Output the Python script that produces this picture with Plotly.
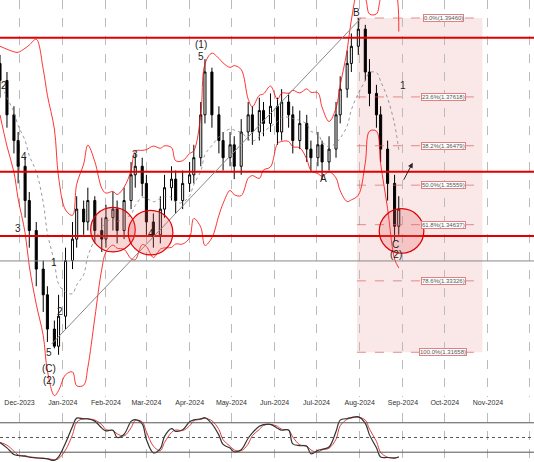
import pandas as pd
import plotly.graph_objects as go
from plotly.subplots import make_subplots

# 3-business-day candles
dates = pd.bdate_range('2023-11-17', periods=69, freq='3B')
close = [1.380, 1.372, 1.366, 1.360, 1.352, 1.345, 1.336, 1.330, 1.322, 1.318,
         1.325, 1.338, 1.343, 1.350, 1.347, 1.352, 1.345, 1.343, 1.348, 1.350,
         1.345, 1.352, 1.358, 1.360, 1.356, 1.347, 1.344, 1.350, 1.355, 1.357,
         1.352, 1.356, 1.358, 1.362, 1.372, 1.382, 1.372, 1.366, 1.362, 1.365,
         1.360, 1.368, 1.372, 1.368, 1.373, 1.370, 1.374, 1.368, 1.375, 1.372,
         1.366, 1.370, 1.364, 1.362, 1.365, 1.361, 1.364, 1.372, 1.378, 1.384,
         1.388, 1.392, 1.382, 1.377, 1.372, 1.364, 1.356, 1.346, 1.350]
high = [1.386, 1.382, 1.374, 1.368, 1.362, 1.354, 1.347, 1.338, 1.332, 1.324,
        1.330, 1.341, 1.347, 1.353, 1.352, 1.355, 1.353, 1.348, 1.351, 1.354,
        1.352, 1.355, 1.361, 1.363, 1.362, 1.358, 1.349, 1.353, 1.358, 1.360,
        1.359, 1.359, 1.361, 1.365, 1.375, 1.385, 1.383, 1.374, 1.368, 1.368,
        1.367, 1.371, 1.375, 1.374, 1.376, 1.375, 1.377, 1.376, 1.378, 1.377,
        1.374, 1.373, 1.372, 1.366, 1.368, 1.366, 1.367, 1.375, 1.381, 1.387,
        1.391, 1.3946, 1.393, 1.385, 1.379, 1.374, 1.366, 1.358, 1.353]
low = [1.376, 1.369, 1.363, 1.356, 1.348, 1.341, 1.332, 1.326, 1.319, 1.3175,
       1.316, 1.322, 1.336, 1.341, 1.344, 1.345, 1.342, 1.340, 1.341, 1.345,
       1.342, 1.343, 1.350, 1.355, 1.353, 1.344, 1.341, 1.342, 1.348, 1.352,
       1.349, 1.350, 1.354, 1.356, 1.360, 1.370, 1.369, 1.363, 1.359, 1.360,
       1.357, 1.358, 1.366, 1.365, 1.366, 1.367, 1.368, 1.365, 1.366, 1.369,
       1.363, 1.364, 1.361, 1.359, 1.360, 1.357, 1.359, 1.362, 1.370, 1.376,
       1.382, 1.386, 1.380, 1.374, 1.369, 1.361, 1.352, 1.3425, 1.344]
open_ = [1.384] + close[:-1]

fib_levels = ['0.0', '23.6', '38.2', '50.0', '61.8', '78.6', '100.0']
fib_prices = [1.39460, 1.37618, 1.36479, 1.35559, 1.34637, 1.33326, 1.31658]
red_lines = [1.3900, 1.3587, 1.3437]
gray_line = 1.3379

wave_labels = [
    ('2023-11-20', 1.3788, '2'), ('2023-12-04', 1.3622, '4'), ('2023-11-30', 1.3454, '3'),
    ('2023-12-26', 1.3376, '1'), ('2023-12-30', 1.3260, '2'), ('2023-12-22', 1.3166, '5'),
    ('2023-12-22', 1.3129, '(C)'), ('2023-12-22', 1.3101, '(2)'), ('2024-02-22', 1.3627, '3'),
    ('2024-03-04', 1.3442, '4'), ('2024-04-09', 1.3884, '(1)'), ('2024-04-09', 1.3856, '5'),
    ('2024-07-06', 1.3571, 'A'), ('2024-07-30', 1.3960, 'B'), ('2024-09-01', 1.3788, '1'),
    ('2024-08-27', 1.3418, 'C'), ('2024-08-27', 1.3394, '(2)'),
]

df = pd.DataFrame({'o': open_, 'h': high, 'l': low, 'c': close}, index=dates)
mid = df['c'].rolling(7, min_periods=1).mean()
sd = df['c'].rolling(7, min_periods=2).std().fillna(0.004)
up, dn = mid + 2 * sd, mid - 2 * sd
hh = df['h'].rolling(7, min_periods=1).max()
ll = df['l'].rolling(7, min_periods=1).min()
stoch = (100 * (df['c'] - ll) / (hh - ll)).rolling(2, min_periods=1).mean()
signal = stoch.rolling(2, min_periods=1).mean()

fig = make_subplots(rows=2, cols=1, shared_xaxes=True, row_heights=[0.89, 0.11],
                    vertical_spacing=0.035)
fig.add_trace(go.Candlestick(x=dates, open=open_, high=high, low=low, close=close,
                             increasing=dict(line=dict(color='black', width=1), fillcolor='white'),
                             decreasing=dict(line=dict(color='black', width=1), fillcolor='black'),
                             showlegend=False, hoverinfo='skip'), row=1, col=1)
for s, col, dash in [(up, 'red', 'solid'), (dn, 'red', 'solid'), (mid, 'gray', 'dot')]:
    fig.add_trace(go.Scatter(x=dates, y=s, mode='lines', line=dict(color=col, width=0.8, dash=dash, shape='spline'),
                             showlegend=False, hoverinfo='skip'), row=1, col=1)
fig.add_trace(go.Scatter(x=dates, y=signal, mode='lines', line=dict(color='#e04040', width=1, shape='spline'),
                         showlegend=False), row=2, col=1)
fig.add_trace(go.Scatter(x=dates, y=stoch, mode='lines', line=dict(color='#333', width=1.2, shape='spline'),
                         showlegend=False), row=2, col=1)

# fib zone
fig.add_shape(type='rect', x0='2024-07-30', x1='2024-10-28', y0=fib_prices[-1], y1=fib_prices[0],
              fillcolor='rgba(230,120,120,0.18)', line_width=0, layer='below', row=1, col=1)
for lvl, p in zip(fib_levels, fib_prices):
    fig.add_shape(type='line', x0='2024-07-30', x1='2024-10-28', y0=p, y1=p,
                  line=dict(color='#e06060', width=0.7, dash='dash'), row=1, col=1)
    fig.add_annotation(x='2024-09-30', y=p, text=f'{lvl}%({p:.5f})', showarrow=False,
                       font=dict(size=6, color='#555'), bgcolor='white', bordercolor='#e08080',
                       borderwidth=1, borderpad=0, row=1, col=1)
for p in red_lines:
    fig.add_hline(y=p, line=dict(color='#e00000', width=2), row=1, col=1)
fig.add_hline(y=gray_line, line=dict(color='#888', width=1), row=1, col=1)
fig.add_shape(type='line', x0='2023-12-24', y0=1.3185, x1='2024-08-02', y1=1.3946,
              line=dict(color='#888', width=1), row=1, col=1)
for cx, cy in [('2024-02-06', 1.3452), ('2024-03-04', 1.3445), ('2024-08-31', 1.3449)]:
    c0 = pd.Timestamp(cx)
    fig.add_shape(type='circle', x0=c0 - pd.Timedelta(days=16), x1=c0 + pd.Timedelta(days=16),
                  y0=cy - 0.0052, y1=cy + 0.0052, fillcolor='rgba(230,90,90,0.25)',
                  line=dict(color='#e00000', width=1.2), row=1, col=1)
for x, y, t in wave_labels:
    fig.add_annotation(x=x, y=y, text=t, showarrow=False, font=dict(size=10, color='#222'), row=1, col=1)
fig.add_annotation(x='2024-09-08', y=1.3608, ax='2024-09-01', ay=1.3565, xref='x', yref='y',
                   axref='x', ayref='y', showarrow=True, arrowhead=2, arrowsize=1, arrowwidth=1,
                   arrowcolor='#222', text='')

for y in [20, 80]:
    fig.add_hline(y=y, line=dict(color='#555', width=1), row=2, col=1)
fig.add_hline(y=50, line=dict(color='#555', width=1, dash='dot'), row=2, col=1)

xr = ['2023-11-17', '2024-12-04']
fig.update_xaxes(range=xr, showgrid=True, gridcolor='#bbb', griddash='dash', gridwidth=0.7,
                 dtick='M1', tickformat='%b-%Y', tickfont=dict(size=7, color='#333'),
                 rangeslider_visible=False, showline=False, zeroline=False, ticks='')
fig.update_xaxes(showticklabels=True, row=1, col=1)
fig.update_xaxes(showticklabels=False, row=2, col=1)
fig.update_yaxes(range=[1.3062, 1.3988], showticklabels=False, showgrid=False, zeroline=False, row=1, col=1)
fig.update_yaxes(range=[0, 100], showticklabels=False, showgrid=False, zeroline=False, row=2, col=1)
fig.update_layout(width=534, height=462, margin=dict(l=0, r=0, t=0, b=0, autoexpand=False),
                  plot_bgcolor='white', paper_bgcolor='white',
                  font=dict(family='Liberation Sans'))
fig.write_html('out.html', config={'displayModeBar': False})

# drop the browser's default page margin so the chart sits flush
with open('out.html', encoding='utf-8') as f:
    page = f.read()
page = page.replace('<head>', '<head><style>body{margin:0}</style>', 1)
with open('out.html', 'w', encoding='utf-8') as f:
    f.write(page)
